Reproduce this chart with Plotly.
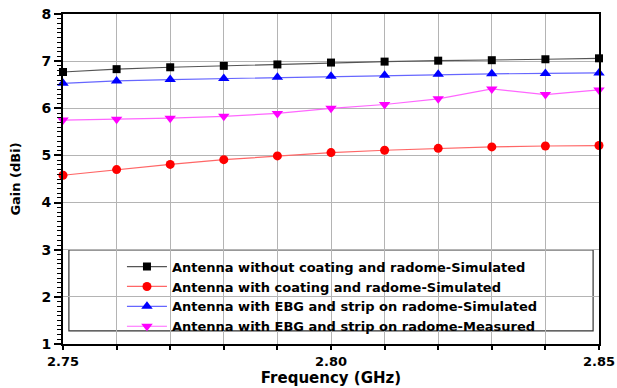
import plotly.graph_objects as go

# Frequency sweep (GHz)
freq = [2.75, 2.76, 2.77, 2.78, 2.79, 2.80, 2.81, 2.82, 2.83, 2.84, 2.85]

# Gain (dBi) for each configuration
gain_bare_sim = [6.77, 6.83, 6.87, 6.90, 6.93, 6.97, 6.99, 7.01, 7.02, 7.04, 7.06]
gain_coat_sim = [4.58, 4.70, 4.81, 4.91, 4.99, 5.06, 5.11, 5.15, 5.18, 5.20, 5.21]
gain_ebg_sim = [6.53, 6.58, 6.61, 6.63, 6.66, 6.68, 6.70, 6.72, 6.73, 6.74, 6.75]
gain_ebg_meas = [5.75, 5.77, 5.79, 5.83, 5.89, 6.00, 6.08, 6.20, 6.41, 6.29, 6.39]

series_names = [
    "Antenna without coating and radome-Simulated",
    "Antenna with coating and radome-Simulated",
    "Antenna with EBG and strip on radome-Simulated",
    "Antenna with EBG and strip on radome-Measured",
]

x_ticks = [2.75, 2.80, 2.85]
y_ticks = [1, 2, 3, 4, 5, 6, 7, 8]

FONT = "DejaVu Sans"

styles = [
    dict(color="black", line="#555555", symbol="square", size=8),
    dict(color="red", line="#ff6666", symbol="circle", size=9),
    dict(color="blue", line="#6666ff", symbol="triangle-up", size=10),
    dict(color="magenta", line="#ff66ff", symbol="triangle-down", size=10),
]

fig = go.Figure()
for name, ys, st in zip(series_names,
                        [gain_bare_sim, gain_coat_sim, gain_ebg_sim, gain_ebg_meas],
                        styles):
    fig.add_trace(go.Scatter(
        x=freq, y=ys, name=name, mode="lines+markers",
        line=dict(color=st["line"], width=1.2),
        marker=dict(color=st["color"], symbol=st["symbol"], size=st["size"],
                    line=dict(width=0)),
        cliponaxis=False,
    ))

# White legend frame spanning the lower part of the plot
fig.add_shape(type="rect", xref="paper", yref="paper",
              x0=0.011, x1=0.989, y0=0.040, y1=0.285,
              line=dict(color="#333333", width=1.2), fillcolor="white",
              layer="between")

fig.update_layout(
    width=617, height=388,
    margin=dict(l=63, r=18, t=14, b=44),
    paper_bgcolor="white", plot_bgcolor="white",
    font=dict(family=FONT, size=13, color="black", weight="bold"),
    showlegend=True,
    legend=dict(
        x=0.110, y=0.280, xanchor="left", yanchor="top",
        bgcolor="rgba(0,0,0,0)", borderwidth=0,
        font=dict(family=FONT, size=13, color="black", weight="bold"),
        itemwidth=40, tracegroupgap=0,
    ),
    xaxis=dict(
        range=[2.75, 2.85], tickvals=x_ticks, tickformat=".2f",
        automargin=False,
        showline=True, linecolor="black", linewidth=2, mirror=True,
        ticks="outside", ticklen=4, tickwidth=2, tickcolor="black",
        showgrid=True, gridcolor="#b4b4b4", gridwidth=1,
        zeroline=False,
        minor=dict(dtick=0.01, tick0=2.75, showgrid=True, gridcolor="#b4b4b4",
                   gridwidth=1, ticks="outside", ticklen=4, tickwidth=2,
                   tickcolor="black"),
        title=dict(text="Frequency (GHz)", standoff=3,
                   font=dict(family=FONT, size=15, weight="bold")),
        tickfont=dict(family=FONT, size=13, weight="bold"),
    ),
    yaxis=dict(
        range=[1, 8], tickvals=y_ticks,
        automargin=False,
        showline=True, linecolor="black", linewidth=2, mirror=True,
        ticks="outside", ticklen=7, tickwidth=2, tickcolor="black",
        showgrid=True, gridcolor="#b4b4b4", gridwidth=1,
        zeroline=False,
        minor=dict(dtick=0.1, tick0=1, showgrid=False, ticks="outside",
                   ticklen=4, tickwidth=1, tickcolor="black"),
        title=dict(text="Gain (dBi)", standoff=18,
                   font=dict(family=FONT, size=13, weight="bold")),
        tickfont=dict(family=FONT, size=14, weight="bold"),
    ),
)

fig.write_html("out.html")
